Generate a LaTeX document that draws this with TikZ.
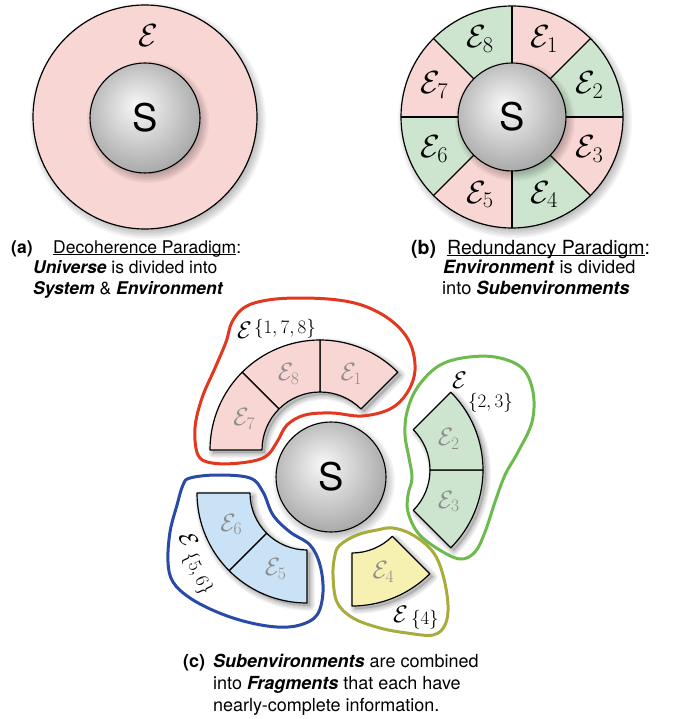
\RequirePackage{fix-cm}
\documentclass[tikz,border=0pt]{standalone}
\usepackage{fontspec}
\setsansfont{TeX Gyre Heros}
\usetikzlibrary{calc}
\definecolor{pinkE}{HTML}{F8D6D3}
\definecolor{greenE}{HTML}{CDE5CF}
\definecolor{blueE}{HTML}{C9E2F5}
\definecolor{yellowE}{HTML}{F6F1B0}
\definecolor{redL}{HTML}{E2381F}
\definecolor{greenL}{HTML}{6DBA4F}
\definecolor{blueL}{HTML}{2A4AA8}
\definecolor{yellowL}{HTML}{A9AC3C}
\definecolor{labgray}{HTML}{8C8C8C}
\pgfdeclareradialshading{sphereshade}{\pgfpoint{-4bp}{6bp}}{color(0bp)=(black!3); color(14bp)=(black!18); color(32bp)=(black!38); color(50bp)=(black!62); color(52bp)=(black!62)}
\newcommand{\secpath}[6]{($(#1,#2)+(#3:#6)$) arc[start angle=#3,end angle=#4,radius=#6] -- ($(#1,#2)+(#4:#5)$) arc[start angle=#4,end angle=#3,radius=#5] -- cycle}
\newcommand{\ulin}[1]{\setbox0\hbox{#1}\rlap{\rule[-2.2pt]{\wd0}{1.1pt}}\box0}
\newcommand{\fsubtxt}[2]{\raisebox{#1}{\fontsize{19}{19}\selectfont$\{#2\}$}}
\newcommand{\secshadow}[6]{%
  \foreach \w in {2pt,4pt,6pt,8pt,10pt}{\draw[black,opacity=0.045,line width=\w,line join=round,shift={(3,-3)}] \secpath{#1}{#2}{#3}{#4}{#5}{#6};}
  \fill[black,opacity=0.14,shift={(3,-3)}] \secpath{#1}{#2}{#3}{#4}{#5}{#6};}
\newcommand{\circshadow}[3]{%
  \foreach \d in {0,1.5,3,4.5,6,7.5,9}{\fill[black,opacity=0.04] ($(#1,#2)+(3,-4)$) circle[radius=#3-3+\d];}}
\tikzset{
  sball/.style={circle,draw=black,line width=1.1pt,minimum size=110pt,inner sep=0pt,shading=sphereshade,font=\sffamily\fontsize{38}{38}\selectfont},
  elab/.style={font=\fontsize{32}{32}\selectfont,inner sep=0pt},
  glab/.style={font=\fontsize{25}{25}\selectfont,inner sep=0pt,text=labgray},
  fname/.style={font=\fontsize{24}{24}\selectfont,inner sep=0pt,anchor=base west},
  captxt/.style={font=\sffamily\fontsize{17.5}{21}\selectfont,anchor=base west,inner sep=0pt},
  secline/.style={draw=black,line width=1.2pt,line join=round},
  fragline/.style={line width=3pt,line join=round}
}
\begin{document}
\begin{tikzpicture}[x=1pt,y=1pt]
\path[use as bounding box,fill=white] (0,-719) rectangle (681,0);
% ---------- (a) ----------
\circshadow{145}{-117}{112}
\node[circle,minimum size=224pt,inner sep=0pt,fill=pinkE,draw=black,line width=1.2pt] (ringA) at (145,-117) {};
\circshadow{145}{-118}{55}
\node[sball] (SA) at (145,-118) {S};
\node[elab] (EA) at (148,-36) {$\mathcal{E}$};
\node[captxt] (capA1) at (11,-253) {\textbf{(a)}};
\node[captxt] (capA2) at (53,-253) {\ulin{Decoherence Paradigm}:};
\node[captxt] (capA3) at (33,-273) {\textbf{\textit{Universe}} is divided into};
\node[captxt] (capA4) at (33,-294) {\textbf{\textit{System}} \& \textbf{\textit{Environment}}};
% ---------- (b) ----------
\circshadow{512}{-117}{111}
\foreach \a/\b/\c in {0/45/greenE,45/90/pinkE,90/135/greenE,135/180/pinkE,180/225/greenE,225/270/pinkE,270/315/greenE,315/360/pinkE}{
  \fill[\c] \secpath{512}{-117}{\a}{\b}{50}{111};
}
\foreach \a in {0,45,...,315}{\draw[line width=1.2pt] ($(512,-117)+(\a:52)$) -- ($(512,-117)+(\a:111)$);}
\node[circle,minimum size=222pt,inner sep=0pt,draw=black,line width=1.2pt] (ringB) at (512,-117) {};
\circshadow{512}{-117}{54}
\node[sball,minimum size=108pt] (SB) at (512,-117) {S};
\foreach \k/\a in {1/67.5,2/22.5,3/-22.5,4/-67.5,5/-112.5,6/-157.5,7/157.5,8/112.5}{
  \node[elab] (b\k) at ($(512,-117)+(\a:84)$) {$\mathcal{E}_{\k}$};
}
\node[captxt,font=\sffamily\fontsize{19.5}{21}\selectfont] (capB1) at (411,-254) {\textbf{(b)}};
\node[captxt,font=\sffamily\fontsize{19.5}{21}\selectfont] (capB2) at (447,-254) {\ulin{Redundancy Paradigm}:};
\node[captxt,font=\sffamily\fontsize{18.2}{21}\selectfont] (capB3) at (443,-273) {\textbf{\textit{Environment}} is divided};
\node[captxt,font=\sffamily\fontsize{18.2}{21}\selectfont] (capB4) at (442,-294) {into \textbf{\textit{Subenvironments}}};
% ---------- (c) ----------
% shadows
\secshadow{320}{-450}{45}{180}{58}{110}
\secshadow{373}{-470}{-45}{45}{57}{110}
\secshadow{307}{-493}{180}{270}{57}{110}
\secshadow{352}{-496}{270}{315}{57}{110}
% red fragment
\foreach \a/\b in {45/90,90/135,135/180}{\path[fill=pinkE,secline] \secpath{320}{-450}{\a}{\b}{58}{110};}
% green fragment
\foreach \a/\b in {-45/0,0/45}{\path[fill=greenE,secline] \secpath{373}{-470}{\a}{\b}{57}{110};}
% blue fragment
\foreach \a/\b in {180/225,225/270}{\path[fill=blueE,secline] \secpath{307}{-493}{\a}{\b}{57}{110};}
% yellow fragment
\path[fill=yellowE,secline] \secpath{352}{-496}{270}{315}{57}{110};
% fragment labels
\node[glab] (c1) at ($(320,-450)+(67.5:82)$) {$\mathcal{E}_{1}$};
\node[glab] (c8) at ($(320,-450)+(112.5:82)$) {$\mathcal{E}_{8}$};
\node[glab] (c7) at ($(320,-450)+(157.5:82)$) {$\mathcal{E}_{7}$};
\node[glab] (c2) at ($(373,-470)+(22.5:82)$) {$\mathcal{E}_{2}$};
\node[glab] (c3) at ($(373,-470)+(-22.5:82)$) {$\mathcal{E}_{3}$};
\node[glab] (c6) at ($(307,-493)+(202.5:82)$) {$\mathcal{E}_{6}$};
\node[glab] (c5) at ($(307,-493)+(247.5:82)$) {$\mathcal{E}_{5}$};
\node[glab] (c4) at ($(352,-496)+(292.5:82)$) {$\mathcal{E}_{4}$};
% system
\circshadow{331}{-477}{55}
\node[sball] (SC) at (331,-477) {S};
% fragment outlines
\draw[fragline,redL] plot[smooth cycle,tension=0.6] coordinates {(198,-455) (195,-428) (202,-398) (215,-368) (226,-342) (232,-322) (245,-307) (268,-300) (300,-298) (338,-300) (367,-307) (393,-322) (410,-343) (415,-370) (407,-393) (390,-409) (362,-416) (332,-413) (305,-415) (287,-425) (277,-442) (265,-457) (240,-463) (212,-463)};
\draw[fragline,greenL] plot[smooth cycle,tension=0.6] coordinates {(462,-358) (495,-357) (522,-368) (533,-392) (532,-422) (518,-452) (505,-475) (495,-502) (485,-532) (475,-552) (460,-559) (438,-549) (418,-533) (408,-512) (408,-495) (412,-478) (409,-458) (405,-435) (407,-412) (417,-388) (437,-367)};
\draw[fragline,blueL] plot[smooth cycle,tension=0.6] coordinates {(190,-478) (217,-475) (250,-478) (263,-492) (273,-515) (290,-532) (310,-545) (320,-565) (323,-592) (317,-615) (300,-625) (277,-627) (247,-622) (217,-612) (190,-598) (173,-582) (168,-562) (170,-532) (177,-505) (183,-485)};
\draw[fragline,yellowL] plot[smooth cycle,tension=0.6] coordinates {(340,-545) (357,-535) (377,-530) (393,-528) (413,-535) (433,-552) (443,-575) (448,-605) (445,-625) (433,-635) (407,-633) (380,-628) (353,-618) (337,-602) (333,-575) (335,-555)};
% fragment names
\node[fname] (fR) at (237,-338) {$\mathcal{E}$\kern2pt\fsubtxt{5pt}{1,7,8}};
\node[fname] (fG) at (452,-388) {$\mathcal{E}$\kern1pt\fsubtxt{-19pt}{2,3}};
\node[fname,rotate=-65] (fB) at (178,-536) {$\mathcal{E}$\kern5pt\fsubtxt{-3pt}{5,6}};
\node[fname] (fY) at (393,-622) {$\mathcal{E}$\kern3pt\fsubtxt{-2pt}{4}};
% caption (c)
\node[captxt,font=\sffamily\fontsize{18}{21}\selectfont] (capC1) at (183,-667) {\textbf{(c)}};
\node[captxt,font=\sffamily\fontsize{18}{21}\selectfont] (capC2) at (213,-667) {\textbf{\textit{Subenvironments}} are combined};
\node[captxt,font=\sffamily\fontsize{18}{21}\selectfont] (capC3) at (213,-689) {into \textbf{\textit{Fragments}} that each have};
\node[captxt,font=\sffamily\fontsize{18}{21}\selectfont] (capC4) at (213,-711) {nearly-complete information.};
\end{tikzpicture}
\end{document}
